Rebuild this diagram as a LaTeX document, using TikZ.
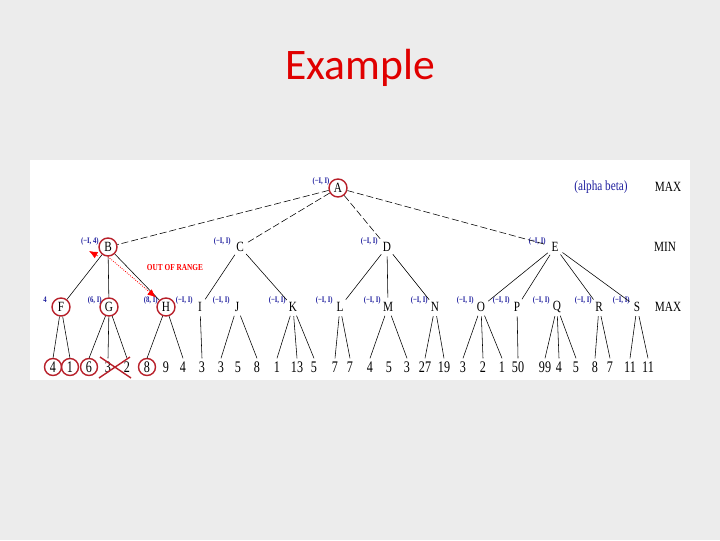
\documentclass[tikz,border=0pt]{standalone}
\usepackage{fontspec}
\setmainfont{Liberation Serif}
\newfontfamily\titlefont{Carlito}
\newfontfamily\treefont[FakeStretch=0.8]{Liberation Serif}
\newfontfamily\leaffont[FakeStretch=0.75]{Liberation Serif}
\usetikzlibrary{arrows.meta}
\definecolor{slidebg}{HTML}{ECECEC}
\definecolor{tagblue}{HTML}{1E1E9E}
\definecolor{hitred}{HTML}{B8202A}
\definecolor{titlered}{HTML}{E00000}

\begin{document}
\begin{tikzpicture}[x=0.025cm,y=-0.025cm,
  lvl/.style={circle,inner sep=0pt,minimum size=0.45cm,font=\treefont\fontsize{10}{12}\selectfont},
  leaf/.style={rectangle,inner xsep=1pt,inner ysep=2pt,text height=8pt,text depth=0pt,
    font=\leaffont\fontsize{11.5}{12}\selectfont},
  hit/.style={draw=hitred,line width=1pt},
  tag/.style={text=tagblue,inner sep=0pt,font=\treefont\fontsize{6}{6}\selectfont\bfseries},
  side/.style={inner sep=0pt,font=\treefont\fontsize{10}{10}\selectfont},
  edge/.style={line width=0.4pt},
  topedge/.style={edge,dash pattern=on 5pt off 2pt},
  oor/.style={draw=red,densely dotted,line width=0.6pt,-{Latex[length=6pt,width=5pt]}}
]
% slide and white panel
\fill[slidebg] (0,0) rectangle (720,540);
\fill[white] (30,160) rectangle (690,380);
\node[font=\titlefont\fontsize{31}{36}\selectfont,text=titlered] (title) at (360,68) {Example};

% root and MIN level
\node[lvl,hit] (A) at (338,188) {A};
\node[tag] (tA) at (321,181) {(−I, I)};
\node[lvl,hit] (B) at (108,247) {B};
\node[tag,anchor=east] (tB) at (99,241) {(−I, 4)};
\foreach \n/\x in {C/240,D/387,E/555} {
  \node[lvl] (\n) at (\x,247) {\n};
  \node[tag,anchor=east] (t\n) at (\x-9,241) {(−I, I)};
}
\foreach \c in {B,C,D,E}
  \draw[topedge] (A) -- (\c);

% MAX level
\node[lvl,hit] (F) at (61,307) {F};
\node[tag] (tF) at (45,300) {4};
\node[lvl,hit] (G) at (109,307) {G};
\node[tag,anchor=east] (tG) at (102,300) {(6, I)};
\node[lvl,hit] (H) at (166,307) {H};
\node[tag,anchor=east] (tH) at (158,300) {(8, I)};
\foreach \n/\x in {I/200,J/237,K/293,L/340,M/388,N/435,O/481,P/517,Q/557,R/599,S/637} {
  \node[lvl] (\n) at (\x,307) {\n};
  \node[tag,anchor=east] (t\n) at (\x-7,300) {(−I, I)};
}
\foreach \p/\c in {B/F,B/G,B/H,C/I,C/K,D/L,D/M,D/N,E/O,E/P,E/R,E/S}
  \draw[edge] (\p) -- (\c);

% leaves
\foreach \i/\x/\v in {1/53/4,2/70/1,3/89/6,4/108/3,5/127/2,6/147/8,7/166/9,8/183/4,
    9/202/3,10/221/3,11/238/5,12/257/8,13/277/1,14/297/13,15/314/5,16/335/7,17/350/7,
    18/370/4,19/389/5,20/407/3,21/425/27,22/444/19,23/463/3,24/483/2,25/502/1,26/518/50,
    27/545/99,28/559/4,29/576/5,30/595/8,31/610/7,32/630/11,33/648/11}
  \node[leaf] (n\i) at (\x,367) {\v};
\foreach \i in {1,2,3,6}
  \draw[hit] (n\i) circle (8.5);
\foreach \p/\c in {F/1,F/2,G/3,G/4,G/5,H/6,H/8,I/9,J/10,J/12,K/13,K/14,K/15,L/16,L/17,
    M/18,M/20,N/21,N/22,O/23,O/24,O/25,P/26,Q/27,Q/28,Q/29,R/30,R/31,S/32,S/33}
  \draw[edge] (\p) -- (n\c.north);

% pruned leaf
\draw[hitred,line width=1pt] (100,357) -- (131,378) (99,378) -- (130,357);

% out of range note
\node[text=red,inner sep=0pt,font=\treefont\fontsize{6.5}{7}\selectfont\bfseries] (oortext) at (175,268) {OUT OF RANGE};
\draw[oor,shorten >=3pt] (B.south) -- (H.north west);
\coordinate (oorTail) at (98,256);
\coordinate (oorTip) at (89,251);
\draw[red,-{Latex[length=6pt,width=5pt]}] (oorTail) -- (oorTip);

% legend
\node[side,text=tagblue] (ab) at (601,187) {(alpha beta)};
\node[side] (max1) at (668,187) {MAX};
\node[side] (min1) at (665,247) {MIN};
\node[side] (max2) at (668,307) {MAX};
\end{tikzpicture}
\end{document}
